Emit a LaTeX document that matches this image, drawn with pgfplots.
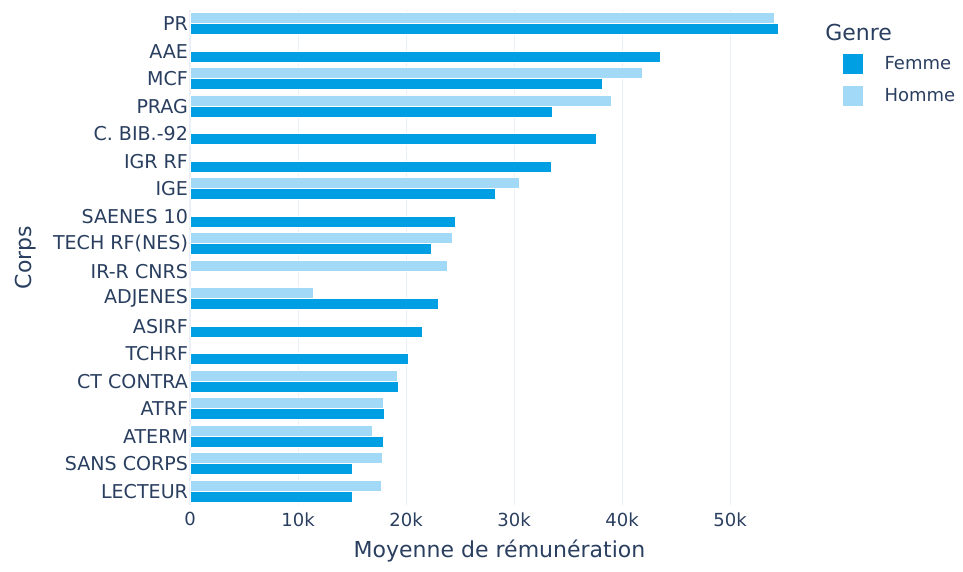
\documentclass[border=0pt]{standalone}
\usepackage{fontspec}
\setmainfont{DejaVu Sans}
\usepackage{pgfplots}
\pgfplotsset{compat=1.18}

\definecolor{txt}{RGB}{42,63,95}
\definecolor{gridc}{RGB}{235,240,248}
\definecolor{femme}{RGB}{0,159,227}
\definecolor{homme}{RGB}{161,217,247}

% y: 17 = PR (top) ... 0 = LECTEUR (bottom)
\pgfplotstableread{
y x
17 54500
16 43500
15 38150
14 33500
13 37600
12 33400
11 28300
10 24600
9 22300
7 23000
6 21500
5 20200
4 19250
3 18000
2 17900
1 15000
0 15000
}\femme

\pgfplotstableread{
y x
17 54100
15 41900
14 39000
11 30500
9 24300
8 23800
7 11400
4 19200
3 17900
2 16900
1 17800
0 17700
}\homme

\begin{document}
\begin{tikzpicture}
\path[use as bounding box] (0,0) rectangle (722.25pt,428.25pt);
\begin{axis}[
  name=ax,
  at={(142.5pt,49.5pt)}, anchor=south west,
  scale only axis,
  width=464.25pt, height=371.25pt,
  xbar, bar width=0.4,
  xmin=0, xmax=57300,
  ymin=-0.5, ymax=17.5,
  axis line style={draw=none},
  major tick length=0pt,
  scaled x ticks=false,
  xtick={0,10000,20000,30000,40000,50000},
  xticklabels={0,10k,20k,30k,40k,50k},
  ytick={0,...,17},
  yticklabels={LECTEUR,SANS CORPS,ATERM,ATRF,CT CONTRA,TCHRF,ASIRF,ADJENES,IR-R CNRS,TECH RF(NES),SAENES 10,IGE,IGR RF,C. BIB.-92,PRAG,MCF,AAE,PR},
  xmajorgrids, ymajorgrids=false,
  grid style={draw=gridc, line width=0.75pt},
  tick label style={font=\fontsize{13.5}{16}\selectfont, text=txt},
  yticklabel style={font=\fontsize{14.3}{16}\selectfont, xshift=2pt},
  /pgf/number format/assume math mode=true,
  xticklabel style={yshift=-2pt},
  xlabel={Moyenne de rémunération},
  ylabel={Corps},
  label style={font=\fontsize{16.5}{19}\selectfont, text=txt},
  xlabel style={yshift=-3pt},
  ylabel style={yshift=6pt},
  legend style={at={(1,1)}, anchor=north west, xshift=25.5pt, yshift=-32.5pt,
    draw=none, fill=none, font=\fontsize{13.5}{16}\selectfont, text=txt,
    row sep=9pt, inner sep=0pt, nodes={inner sep=1pt}},
  legend cell align=left,
  legend image code/.code={\fill[#1, draw=none] (0pt,-7.5pt) rectangle (15pt,7.5pt);},
  clip=false,
]
\draw[gridc, line width=1.5pt] (axis cs:0,-0.5) -- (axis cs:0,17.5);
\addplot[fill=femme, draw=white, line width=0.4pt, bar shift=-0.2] table[x=x, y=y] {\femme};
\addlegendentry{\hspace{15pt}Femme}
\addplot[fill=homme, draw=white, line width=0.4pt, bar shift=0.2] table[x=x, y=y] {\homme};
\addlegendentry{\hspace{15pt}Homme}
\end{axis}
\node[anchor=west, inner sep=0pt, text=txt, font=\fontsize{16.5}{19}\selectfont] at ([xshift=12pt, yshift=-17pt]ax.north east) {Genre};
\end{tikzpicture}
\end{document}
